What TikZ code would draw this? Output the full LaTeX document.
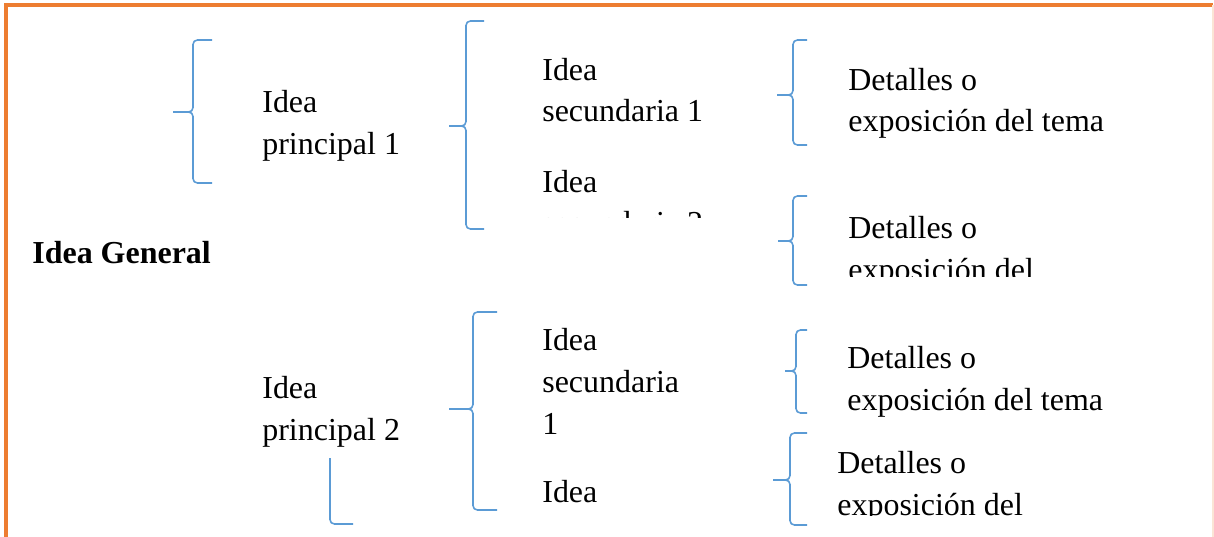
\documentclass[tikz,border=0pt]{standalone}
\usepackage{fontspec}
\setmainfont{Liberation Serif}
\usepackage{tikz}
\definecolor{wordblue}{HTML}{5B9BD5}
\definecolor{wordorange}{HTML}{ED7D31}
\tikzset{
  llave/.style={draw=wordblue, line width=0.9pt, rounded corners=2.5pt},
  texto/.style={anchor=base west, inner sep=0pt, align=left, font=\fontsize{18.2}{23.9}\selectfont}
}

\begin{document}
\begin{tikzpicture}[x=0.02cm, y=-0.02cm]
      \useasboundingbox (0,0) rectangle (1214,537);
      \draw [wordorange, line width=1.8pt] (6,537) -- (6,5) -- (1213,5);
      \draw [wordorange!20, line width=0.8pt] (1213,5) -- (1213,537);
      \draw [llave] (212,40) -- (193,40) -- (193,112) -- (173,112) (173,112) -- (193,112) -- (193,183) -- (212,183);
      \draw [llave] (484,21) -- (466,21) -- (466,126) -- (449,126) (449,126) -- (466,126) -- (466,229) -- (484,229);
      \draw [llave] (807,40) -- (793,40) -- (793,95) -- (777,95) (777,95) -- (793,95) -- (793,145) -- (807,145);
      \draw [llave] (807,196) -- (793,196) -- (793,241) -- (778,241) (778,241) -- (793,241) -- (793,285) -- (807,285);
      \draw [llave] (497,312) -- (473,312) -- (473,409) -- (449,409) (449,409) -- (473,409) -- (473,510) -- (497,510);
      \draw [llave] (807,330) -- (796,330) -- (796,371) -- (785,371) (785,371) -- (796,371) -- (796,413) -- (807,413);
      \draw [llave] (807,433) -- (790,433) -- (790,480) -- (773,480) (773,480) -- (790,480) -- (790,525) -- (807,525);
      \draw [llave] (330,458) -- (330,524) -- (353,524);
      \node [texto, font=\fontsize{18.2}{23.9}\selectfont\bfseries] (general) at (32,263) {Idea General};
      \node [texto] (principal1) at (262,154) {Idea\\principal 1};
      \node [texto] (secundaria1) at (542,122) {Idea\\secundaria 1};
      \node [texto] (detalles1) at (848,132) {Detalles o\\exposición del tema};
      \node [texto] (principal2) at (262,440) {Idea\\principal 2};
      \node [texto] (secundaria3) at (542,434) {Idea\\secundaria\\1};
      \node [texto] (detalles3) at (847,410) {Detalles o\\exposición del tema};
      \node [texto] (secundaria4) at (542,502) {Idea};
      \begin{scope}
        \clip (500,150) rectangle (760,217);
        \node [texto] (secundaria2) at (542,234) {Idea\\secundaria 2};
      \end{scope}
      \begin{scope}
        \clip (820,200) rectangle (1150,276);
        \node [texto] (detalles2) at (848,280) {Detalles o\\exposición del};
      \end{scope}
      \begin{scope}
        \clip (820,440) rectangle (1150,515);
        \node [texto] (detalles4) at (837,515) {Detalles o\\exposición del};
      \end{scope}
    \end{tikzpicture}
\end{document}
